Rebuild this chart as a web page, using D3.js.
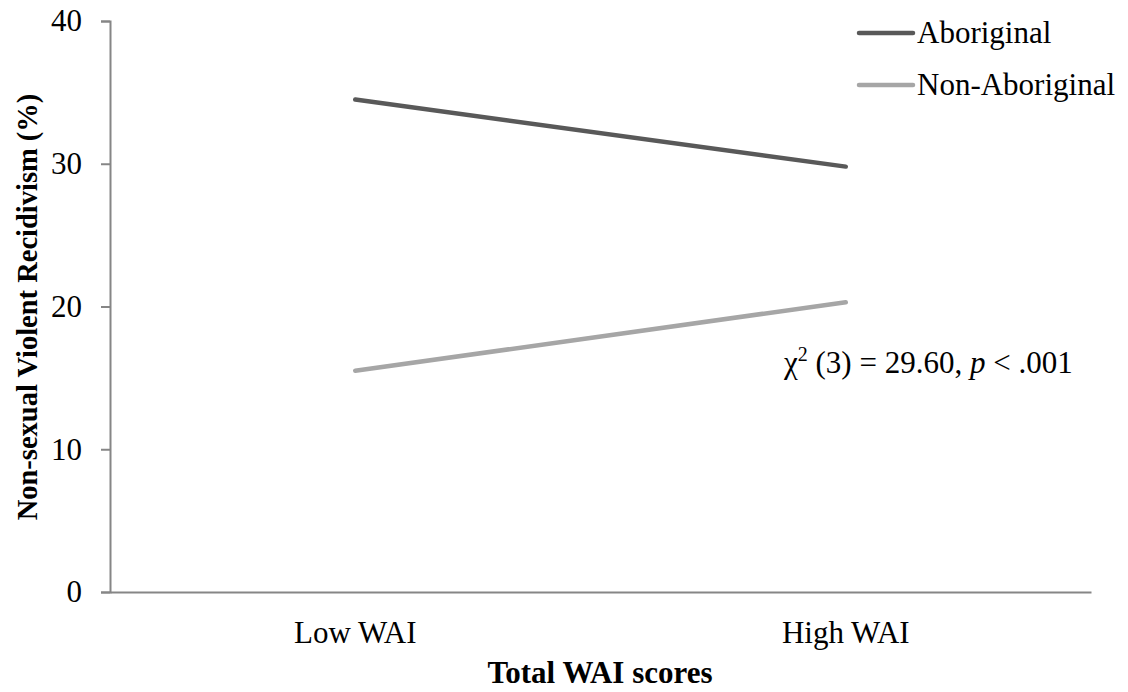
<!DOCTYPE html>
<html><head><meta charset="utf-8">
<script src="https://cdn.jsdelivr.net/npm/d3@7"></script>
<style>body{margin:0;background:#fff}svg{display:block}text{font-family:"Liberation Serif","Times New Roman",serif;fill:#000}</style>
</head><body><svg id="c" width="1128" height="692"></svg>
<script>
const categories = ["Low WAI", "High WAI"];
const seriesNames = ["Aboriginal", "Non-Aboriginal"];
const aboriginal = [34.5, 29.8];
const nonAboriginal = [15.5, 20.3];
const yTicks = [0, 10, 20, 30, 40];
const colors = ["#595959", "#a6a6a6"];

const svg = d3.select("#c");
const x = d3.scaleBand().domain(categories).range([110, 1091]);
const y = d3.scaleLinear().domain([0, 40]).range([592, 21]);
const FS = 31;

// y axis
const ya = svg.append("g").attr("transform", "translate(110,0)")
  .call(d3.axisLeft(y).tickValues(yTicks).tickSize(9).tickPadding(19).tickFormat(d3.format("d")));
ya.select(".domain").attr("stroke", "#868686").attr("stroke-width", 2);
ya.selectAll(".tick line").attr("stroke", "#868686").attr("stroke-width", 2);
ya.selectAll(".tick text").attr("font-size", FS).attr("font-family", "Liberation Serif").attr("fill", "#000");

// x axis
const xa = svg.append("g").attr("transform", "translate(0,592)")
  .call(d3.axisBottom(x).tickSize(0).tickPadding(29));
xa.select(".domain").attr("stroke", "#868686").attr("stroke-width", 2);
xa.selectAll(".tick text").attr("font-size", FS).attr("font-family", "Liberation Serif").attr("fill", "#000");

// lines
const series = [aboriginal, nonAboriginal];
const line = d3.line().x((d, i) => x(categories[i]) + x.bandwidth() / 2).y(d => y(d));
series.forEach((s, k) => {
  svg.append("path").datum(s).attr("d", line).attr("fill", "none")
    .attr("stroke", colors[k]).attr("stroke-width", 4.5).attr("stroke-linecap", "round");
});

// legend
seriesNames.forEach((n, k) => {
  const ly = 33 + k * 52;
  svg.append("line").attr("x1", 859).attr("x2", 913).attr("y1", ly).attr("y2", ly)
    .attr("stroke", colors[k]).attr("stroke-width", 4.5).attr("stroke-linecap", "round");
  svg.append("text").attr("x", 917).attr("y", ly + 10).attr("font-size", FS).text(n);
});

// axis titles
svg.append("text").attr("x", 600).attr("y", 683).attr("text-anchor", "middle")
  .attr("font-size", FS).attr("font-weight", "bold").text("Total WAI scores");
svg.append("text").attr("transform", "translate(37,307) rotate(-90)").attr("text-anchor", "middle")
  .attr("font-size", 28.5).attr("font-weight", "bold").text("Non-sexual Violent Recidivism (%)");

// annotation
const ann = svg.append("text").attr("x", 784).attr("y", 373).attr("font-size", FS);
ann.append("tspan").text("χ");
ann.append("tspan").attr("dy", -12).attr("font-size", 20).text("2");
ann.append("tspan").attr("dy", 12).text(" (3) = 29.60, ");
ann.append("tspan").attr("font-style", "italic").text("p");
ann.append("tspan").text(" < .001");
</script></body></html>
